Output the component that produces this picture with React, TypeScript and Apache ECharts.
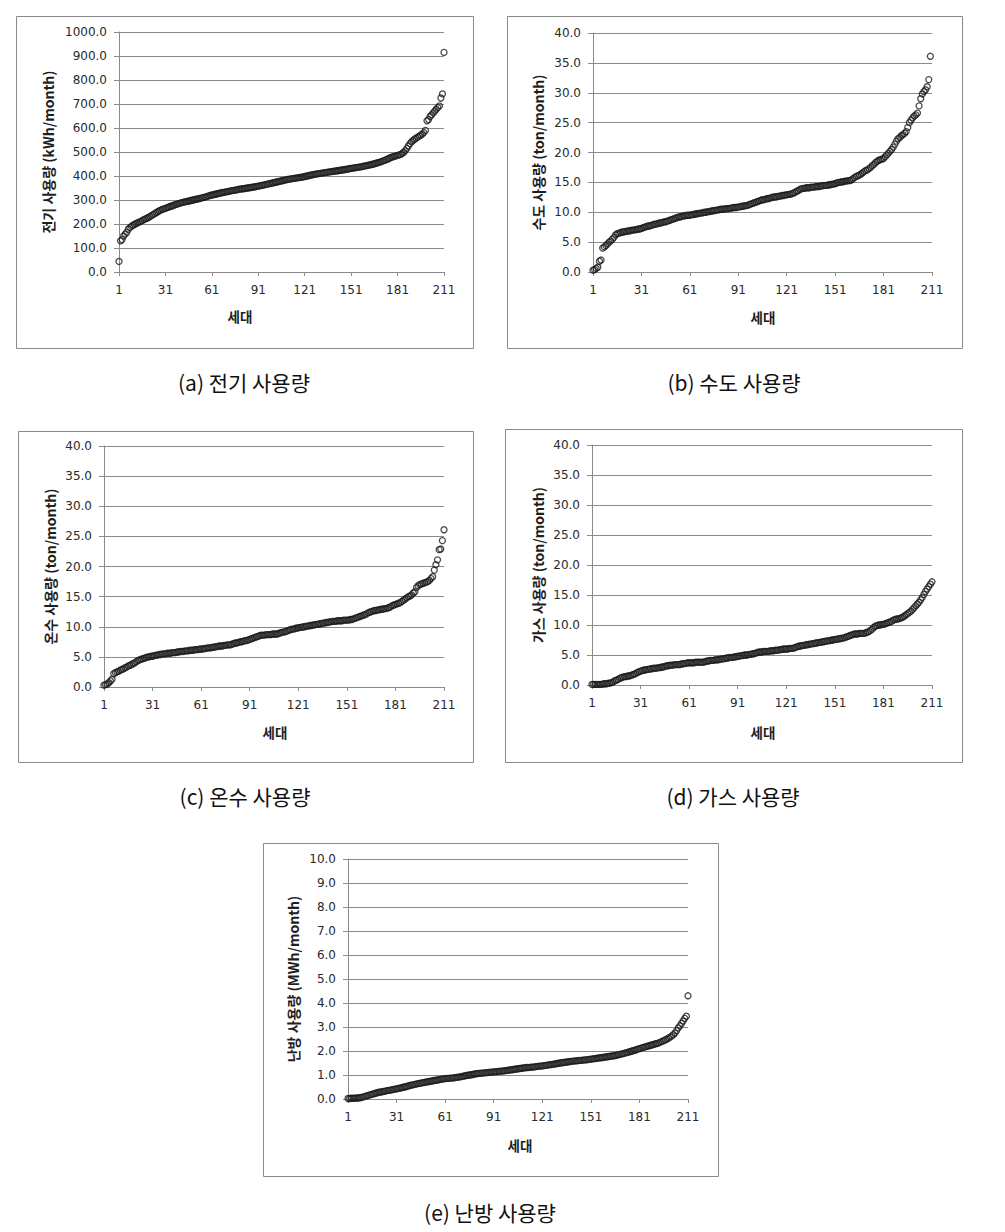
import React, { useEffect, useRef } from "react";
import * as echarts from "echarts";

// x categories (세대 index 1..211)
const CATEGORIES: string[] = Array.from({ length: 211 }, (_, i) => String(i + 1));

// (a) 전기 사용량 (kWh/month), sorted
const ELECTRIC: number[] = [
  44, 130, 135, 150, 158, 165, 178, 185, 190, 195,
  198, 202, 205, 208, 211, 214, 218, 221, 224, 227,
  231, 235, 239, 243, 247, 251, 255, 258, 261, 263,
  265, 268, 270, 273, 275, 277, 280, 282, 284, 286,
  288, 290, 291, 293, 294, 296, 297, 299, 300, 302,
  303, 305, 306, 308, 310, 311, 313, 315, 317, 319,
  321, 322, 324, 325, 327, 328, 330, 331, 332, 334,
  335, 336, 338, 339, 340, 341, 342, 344, 345, 346,
  347, 348, 349, 350, 351, 352, 353, 354, 355, 357,
  358, 359, 361, 362, 363, 365, 366, 368, 369, 371,
  372, 374, 375, 377, 378, 380, 381, 383, 384, 386,
  387, 388, 389, 390, 391, 392, 393, 394, 395, 396,
  398, 399, 401, 402, 404, 405, 407, 408, 409, 410,
  411, 412, 413, 414, 415, 416, 417, 418, 419, 420,
  421, 422, 423, 424, 425, 426, 427, 428, 429, 431,
  432, 433, 434, 435, 436, 437, 438, 439, 441, 442,
  443, 445, 446, 448, 449, 451, 453, 455, 457, 459,
  461, 464, 466, 469, 472, 475, 478, 480, 482, 484,
  486, 488, 490, 494, 499, 506, 515, 525, 535, 542,
  548, 553, 558, 562, 566, 570, 575, 581, 590, 630,
  635, 648, 655, 663, 670, 678, 685, 692, 725, 742, 915,
];

// (b) 수도 사용량 (ton/month)
const WATER: number[] = [
  0.3, 0.4, 0.6, 0.8, 1.8, 2.0, 4.0, 4.2, 4.4, 4.7,
  5.0, 5.2, 5.5, 5.8, 6.2, 6.4, 6.5, 6.6, 6.7, 6.7,
  6.8, 6.8, 6.9, 6.9, 7.0, 7.0, 7.1, 7.1, 7.2, 7.2,
  7.3, 7.4, 7.5, 7.6, 7.7, 7.7, 7.8, 7.9, 8.0, 8.0,
  8.1, 8.2, 8.2, 8.3, 8.4, 8.4, 8.5, 8.6, 8.7, 8.8,
  8.9, 9.0, 9.1, 9.2, 9.2, 9.3, 9.4, 9.4, 9.5, 9.5,
  9.5, 9.6, 9.6, 9.7, 9.7, 9.8, 9.8, 9.9, 9.9, 10.0,
  10.0, 10.1, 10.1, 10.2, 10.2, 10.3, 10.3, 10.4, 10.4, 10.5,
  10.5, 10.5, 10.6, 10.6, 10.6, 10.7, 10.7, 10.8, 10.8, 10.8,
  10.9, 10.9, 11.0, 11.0, 11.1, 11.1, 11.2, 11.3, 11.4, 11.5,
  11.6, 11.7, 11.8, 11.9, 12.0, 12.1, 12.1, 12.2, 12.3, 12.3,
  12.4, 12.5, 12.5, 12.6, 12.6, 12.7, 12.7, 12.8, 12.8, 12.9,
  12.9, 13.0, 13.0, 13.1, 13.2, 13.3, 13.5, 13.6, 13.8, 13.9,
  14.0, 14.0, 14.1, 14.1, 14.1, 14.2, 14.2, 14.2, 14.3, 14.3,
  14.3, 14.4, 14.4, 14.5, 14.5, 14.5, 14.6, 14.6, 14.7, 14.7,
  14.8, 14.9, 15.0, 15.0, 15.1, 15.1, 15.2, 15.2, 15.3, 15.3,
  15.4, 15.6, 15.8, 16.0, 16.1, 16.2, 16.4, 16.6, 16.8, 17.0,
  17.1, 17.3, 17.5, 17.8, 18.0, 18.3, 18.5, 18.7, 18.8, 18.9,
  19.0, 19.3, 19.6, 19.9, 20.2, 20.5, 20.9, 21.4, 21.9, 22.3,
  22.5, 22.8, 23.0, 23.2, 23.5, 24.2, 25.0, 25.4, 25.8, 26.1,
  26.3, 26.6, 27.8, 29.0, 29.8, 30.2, 30.5, 31.0, 32.2, 36.1,
];

// (c) 온수 사용량 (ton/month)
const HOT_WATER: number[] = [
  0.3, 0.4, 0.5, 0.7, 1.0, 1.3, 2.2, 2.4, 2.5, 2.6,
  2.8, 2.9, 3.0, 3.2, 3.3, 3.5, 3.6, 3.7, 3.9, 4.0,
  4.2, 4.4, 4.5, 4.6, 4.7, 4.8, 4.9, 5.0, 5.0, 5.1,
  5.1, 5.2, 5.3, 5.3, 5.4, 5.4, 5.5, 5.5, 5.5, 5.6,
  5.6, 5.6, 5.7, 5.7, 5.7, 5.8, 5.8, 5.9, 5.9, 5.9,
  6.0, 6.0, 6.0, 6.1, 6.1, 6.1, 6.2, 6.2, 6.2, 6.3,
  6.3, 6.3, 6.4, 6.4, 6.5, 6.5, 6.5, 6.6, 6.6, 6.7,
  6.7, 6.8, 6.8, 6.8, 6.9, 6.9, 7.0, 7.0, 7.0, 7.1,
  7.2, 7.3, 7.3, 7.4, 7.5, 7.5, 7.6, 7.7, 7.7, 7.8,
  7.9, 8.0, 8.1, 8.2, 8.3, 8.4, 8.5, 8.6, 8.6, 8.6,
  8.7, 8.7, 8.7, 8.7, 8.8, 8.8, 8.8, 8.8, 8.9, 9.0,
  9.1, 9.1, 9.2, 9.3, 9.4, 9.5, 9.6, 9.6, 9.7, 9.8,
  9.8, 9.9, 9.9, 10.0, 10.0, 10.1, 10.1, 10.2, 10.2, 10.3,
  10.3, 10.4, 10.4, 10.5, 10.5, 10.6, 10.6, 10.7, 10.7, 10.8,
  10.8, 10.9, 10.9, 10.9, 11.0, 11.0, 11.0, 11.0, 11.1, 11.1,
  11.1, 11.1, 11.2, 11.2, 11.3, 11.4, 11.5, 11.6, 11.7, 11.8,
  11.9, 12.0, 12.1, 12.3, 12.4, 12.5, 12.6, 12.7, 12.7, 12.8,
  12.8, 12.9, 12.9, 13.0, 13.0, 13.1, 13.2, 13.3, 13.5, 13.6,
  13.7, 13.8, 13.9, 14.0, 14.2, 14.4, 14.6, 14.8, 15.0, 15.1,
  15.3, 15.6, 15.8, 16.5, 16.8, 17.0, 17.1, 17.2, 17.3, 17.4,
  17.5, 17.7, 18.0, 18.3, 19.4, 20.3, 21.1, 22.8, 22.9, 24.3, 26.1,
];

// (d) 가스 사용량 (ton/month)
const GAS: number[] = [
  0.1, 0.1, 0.1, 0.1, 0.1, 0.1, 0.1, 0.2, 0.2, 0.2,
  0.3, 0.3, 0.4, 0.5, 0.7, 0.8, 0.9, 1.1, 1.2, 1.3,
  1.4, 1.4, 1.5, 1.5, 1.6, 1.7, 1.8, 1.9, 2.1, 2.2,
  2.3, 2.4, 2.5, 2.5, 2.6, 2.6, 2.7, 2.7, 2.8, 2.8,
  2.8, 2.9, 2.9, 3.0, 3.0, 3.1, 3.2, 3.2, 3.3, 3.3,
  3.3, 3.4, 3.4, 3.4, 3.4, 3.5, 3.5, 3.6, 3.6, 3.7,
  3.7, 3.7, 3.7, 3.7, 3.8, 3.8, 3.8, 3.8, 3.8, 3.8,
  3.9, 4.0, 4.0, 4.1, 4.1, 4.1, 4.2, 4.2, 4.2, 4.3,
  4.3, 4.4, 4.4, 4.5, 4.5, 4.6, 4.6, 4.6, 4.7, 4.7,
  4.8, 4.8, 4.9, 4.9, 5.0, 5.0, 5.0, 5.1, 5.1, 5.2,
  5.2, 5.3, 5.4, 5.5, 5.5, 5.5, 5.6, 5.6, 5.6, 5.6,
  5.7, 5.7, 5.7, 5.8, 5.8, 5.8, 5.9, 5.9, 6.0, 6.0,
  6.0, 6.0, 6.1, 6.1, 6.1, 6.2, 6.3, 6.4, 6.5, 6.5,
  6.6, 6.6, 6.7, 6.7, 6.8, 6.8, 6.9, 6.9, 7.0, 7.0,
  7.1, 7.1, 7.2, 7.2, 7.3, 7.3, 7.4, 7.4, 7.5, 7.5,
  7.6, 7.6, 7.7, 7.7, 7.8, 7.8, 7.9, 8.0, 8.1, 8.2,
  8.3, 8.4, 8.5, 8.5, 8.5, 8.6, 8.6, 8.6, 8.6, 8.7,
  8.8, 8.9, 9.1, 9.3, 9.6, 9.8, 9.9, 10.0, 10.0, 10.1,
  10.1, 10.2, 10.3, 10.4, 10.5, 10.6, 10.8, 10.9, 11.0, 11.0,
  11.1, 11.2, 11.3, 11.5, 11.7, 11.9, 12.1, 12.3, 12.6, 12.9,
  13.2, 13.5, 13.8, 14.2, 14.6, 15.1, 15.6, 16.0, 16.4, 16.8, 17.2,
];

// (e) 난방 사용량 (MWh/month)
const HEATING: number[] = [
  0.02, 0.02, 0.03, 0.03, 0.03, 0.04, 0.04, 0.05, 0.06, 0.08,
  0.10, 0.12, 0.14, 0.16, 0.18, 0.20, 0.22, 0.24, 0.26, 0.28,
  0.29, 0.30, 0.32, 0.33, 0.35, 0.36, 0.37, 0.38, 0.40, 0.41,
  0.42, 0.44, 0.45, 0.47, 0.49, 0.50, 0.52, 0.54, 0.56, 0.58,
  0.59, 0.61, 0.62, 0.64, 0.65, 0.66, 0.68, 0.69, 0.70, 0.72,
  0.73, 0.74, 0.75, 0.77, 0.78, 0.79, 0.80, 0.82, 0.83, 0.84,
  0.85, 0.86, 0.86, 0.87, 0.87, 0.88, 0.89, 0.90, 0.91, 0.92,
  0.93, 0.95, 0.96, 0.98, 0.99, 1.00, 1.01, 1.02, 1.04, 1.05,
  1.06, 1.07, 1.08, 1.08, 1.09, 1.10, 1.10, 1.11, 1.12, 1.12,
  1.13, 1.14, 1.14, 1.15, 1.16, 1.16, 1.17, 1.18, 1.19, 1.20,
  1.21, 1.22, 1.23, 1.24, 1.25, 1.26, 1.27, 1.28, 1.29, 1.30,
  1.31, 1.31, 1.32, 1.33, 1.33, 1.34, 1.35, 1.36, 1.37, 1.37,
  1.38, 1.39, 1.40, 1.41, 1.42, 1.43, 1.44, 1.45, 1.46, 1.48,
  1.49, 1.50, 1.51, 1.52, 1.53, 1.54, 1.55, 1.56, 1.57, 1.58,
  1.59, 1.59, 1.60, 1.61, 1.61, 1.62, 1.63, 1.63, 1.64, 1.65,
  1.66, 1.67, 1.68, 1.69, 1.70, 1.71, 1.72, 1.73, 1.74, 1.75,
  1.76, 1.77, 1.78, 1.79, 1.80, 1.81, 1.83, 1.84, 1.86, 1.88,
  1.89, 1.91, 1.93, 1.95, 1.97, 1.99, 2.01, 2.03, 2.05, 2.08,
  2.10, 2.12, 2.14, 2.16, 2.18, 2.20, 2.22, 2.24, 2.26, 2.28,
  2.30, 2.32, 2.34, 2.37, 2.40, 2.43, 2.46, 2.50, 2.54, 2.58,
  2.63, 2.68, 2.75, 2.85, 2.96, 3.05, 3.15, 3.25, 3.36, 3.45, 4.30,
];

const Y_TITLES: string[] = [
  "전기 사용량 (kWh/month)",
  "수도 사용량 (ton/month)",
  "온수 사용량 (ton/month)",
  "가스 사용량 (ton/month)",
  "난방 사용량 (MWh/month)",
];
const CAPTIONS: string[] = [
  "(a) 전기 사용량",
  "(b) 수도 사용량",
  "(c) 온수 사용량",
  "(d) 가스 사용량",
  "(e) 난방 사용량",
];
const X_TITLE = "세대";
const Y_MAX: number[] = [1000, 40, 40, 40, 10];
const Y_STEP: number[] = [100, 5, 5, 5, 1];
const SERIES_DATA: number[][] = [ELECTRIC, WATER, HOT_WATER, GAS, HEATING];

// layout (page pixels)
const LAYOUT = [
  { frame: [16, 16, 473, 348], plot: [119, 32, 444, 272], yTitleX: 48, xTitle: [240, 316], caption: [244, 382] },
  { frame: [507, 16, 962, 348], plot: [593, 33, 932, 272], yTitleX: 538, xTitle: [763, 317], caption: [734, 382] },
  { frame: [18, 431, 473, 762], plot: [104, 446, 444, 687], yTitleX: 50, xTitle: [275, 732], caption: [245, 796] },
  { frame: [505, 429, 962, 762], plot: [592, 445, 932, 685], yTitleX: 538, xTitle: [763, 732], caption: [733, 796] },
  { frame: [263, 843, 718, 1176], plot: [348, 859, 688, 1099], yTitleX: 293, xTitle: [520, 1145], caption: [490, 1212] },
];

const NUM_FONT = "DejaVu Sans";
const KR_FONT = "Noto Sans CJK KR";
const GRID_COLOR = "#8a8a8a";

export default function App() {
  const ref = useRef<HTMLDivElement>(null);
  useEffect(() => {
    if (!ref.current) return;
    const chart = echarts.init(ref.current, undefined, { renderer: "svg" });
    const graphic: any[] = [];
    LAYOUT.forEach((L, i) => {
      const [fx0, fy0, fx1, fy1] = L.frame;
      graphic.push({
        type: "rect",
        shape: { x: fx0 + 0.5, y: fy0 + 0.5, width: fx1 - fx0, height: fy1 - fy0 },
        style: { fill: "none", stroke: "#8a8a8a", lineWidth: 1 },
        z: -1,
      });
      const [, py0, , py1] = L.plot;
      graphic.push({
        type: "text",
        x: L.yTitleX,
        y: (py0 + py1) / 2,
        rotation: Math.PI / 2,
        style: {
          text: Y_TITLES[i],
          fontFamily: KR_FONT,
          fontWeight: "bold",
          fontSize: 14,
          fill: "#1e1e1e",
          textAlign: "center",
          textVerticalAlign: "middle",
        },
      });
      graphic.push({
        type: "text",
        x: L.xTitle[0],
        y: L.xTitle[1],
        style: {
          text: X_TITLE,
          fontFamily: KR_FONT,
          fontWeight: "bold",
          fontSize: 13.5,
          fill: "#1e1e1e",
          textAlign: "center",
          textVerticalAlign: "middle",
        },
      });
      graphic.push({
        type: "text",
        x: L.caption[0],
        y: L.caption[1],
        style: {
          text: CAPTIONS[i],
          fontFamily: KR_FONT,
          fontSize: 21,
          fill: "#111",
          textAlign: "center",
          textVerticalAlign: "middle",
        },
      });
    });

    const option: any = {
      animation: false,
      backgroundColor: "#fff",
      grid: LAYOUT.map((L) => ({
        left: L.plot[0],
        top: L.plot[1],
        width: L.plot[2] - L.plot[0],
        height: L.plot[3] - L.plot[1],
        containLabel: false,
      })),
      xAxis: LAYOUT.map((_, i) => ({
        type: "category",
        gridIndex: i,
        data: CATEGORIES,
        boundaryGap: false,
        axisLine: { show: true, lineStyle: { color: GRID_COLOR, width: 1 } },
        axisTick: { show: true, interval: 29, length: 4, inside: false, lineStyle: { color: GRID_COLOR } },
        axisLabel: { interval: 29, fontFamily: NUM_FONT, fontSize: 12, color: "#2a2a2a", margin: 12 },
        splitLine: { show: false },
      })),
      yAxis: LAYOUT.map((_, i) => ({
        type: "value",
        gridIndex: i,
        min: 0,
        max: Y_MAX[i],
        interval: Y_STEP[i],
        axisLine: { show: true, lineStyle: { color: GRID_COLOR, width: 1 } },
        axisTick: { show: true, length: 5, lineStyle: { color: GRID_COLOR } },
        axisLabel: {
          fontFamily: NUM_FONT,
          fontSize: 12,
          color: "#2a2a2a",
          margin: 12,
          formatter: (v: number) => v.toFixed(1),
        },
        splitLine: { show: true, lineStyle: { color: GRID_COLOR, width: 1 } },
      })),
      series: SERIES_DATA.map((d, i) => ({
        type: "scatter",
        xAxisIndex: i,
        yAxisIndex: i,
        data: d,
        symbol: "circle",
        symbolSize: 6,
        itemStyle: { color: "rgba(255,255,255,0)", borderColor: "#1a1a1a", borderWidth: 1.3 },
      })),
      graphic,
    };
    chart.setOption(option);
    return () => chart.dispose();
  }, []);
  return (
    <div
      ref={ref}
      style={{ position: "absolute", left: 0, top: 0, width: 1005, height: 1232 }}
    />
  );
}
